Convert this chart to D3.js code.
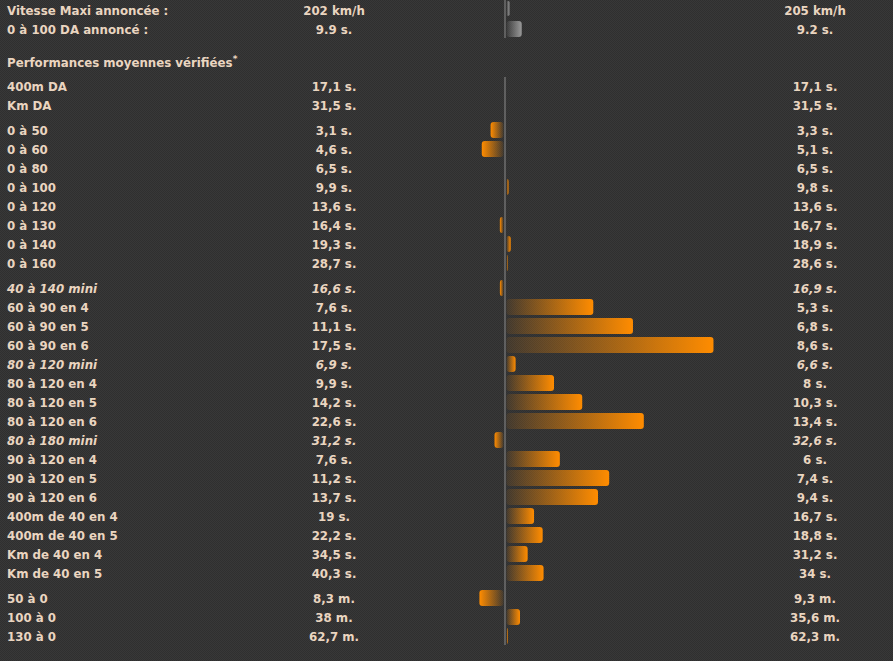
<!DOCTYPE html>
<html>
<head>
<meta charset="utf-8">
<script src="https://cdn.jsdelivr.net/npm/d3@7"></script>
<style>
  body { margin: 0; background: #343434; }
  svg { display: block; }
  text { font-family: "DejaVu Sans", Verdana, sans-serif; font-weight: bold; font-size: 11.8px; fill: #ead5c0; }
</style>
</head>
<body>
<svg id="chart"></svg>
<script>
// announced figures (top block)
const topLabels = ["Vitesse Maxi annoncée :", "0 à 100 DA annoncé :"];
const topLeft = [202, 9.9];
const topRight = [205, 9.2];
const topUnits = ["km/h", "s."];
const topHigherBetter = [true, false];

// measured performances
const labels = [
  "400m DA", "Km DA",
  "0 à 50", "0 à 60", "0 à 80", "0 à 100", "0 à 120", "0 à 130", "0 à 140", "0 à 160",
  "40 à 140 mini", "60 à 90 en 4", "60 à 90 en 5", "60 à 90 en 6",
  "80 à 120 mini", "80 à 120 en 4", "80 à 120 en 5", "80 à 120 en 6",
  "80 à 180 mini", "90 à 120 en 4", "90 à 120 en 5", "90 à 120 en 6",
  "400m de 40 en 4", "400m de 40 en 5", "Km de 40 en 4", "Km de 40 en 5",
  "50 à 0", "100 à 0", "130 à 0"
];
const groups = [0, 0, 1, 1, 1, 1, 1, 1, 1, 1,
  2, 2, 2, 2, 2, 2, 2, 2, 2, 2, 2, 2, 2, 2, 2, 2, 3, 3, 3];
const leftValues = [17.1, 31.5, 3.1, 4.6, 6.5, 9.9, 13.6, 16.4, 19.3, 28.7,
  16.6, 7.6, 11.1, 17.5, 6.9, 9.9, 14.2, 22.6, 31.2, 7.6, 11.2, 13.7,
  19, 22.2, 34.5, 40.3, 8.3, 38, 62.7];
const rightValues = [17.1, 31.5, 3.3, 5.1, 6.5, 9.8, 13.6, 16.7, 18.9, 28.6,
  16.9, 5.3, 6.8, 8.6, 6.6, 8, 10.3, 13.4, 32.6, 6, 7.4, 9.4,
  16.7, 18.8, 31.2, 34, 9.3, 35.6, 62.3];
const units = labels.map((d, i) => groups[i] === 3 ? "m." : "s.");
const italic = labels.map(d => d.endsWith("mini"));

const width = 893, height = 661;
const cx = 505;

const svg = d3.select("#chart").attr("width", width).attr("height", height);
const defs = svg.append("defs");

const pat = defs.append("pattern").attr("id", "bg").attr("width", 2).attr("height", 2)
  .attr("patternUnits", "userSpaceOnUse");
pat.append("rect").attr("width", 2).attr("height", 2).attr("fill", "#383838");
pat.append("rect").attr("width", 1).attr("height", 1).attr("fill", "#2f2f2f");
pat.append("rect").attr("x", 1).attr("y", 1).attr("width", 1).attr("height", 1).attr("fill", "#2f2f2f");
svg.append("rect").attr("width", width).attr("height", height).attr("fill", "url(#bg)");

function grad(id, color, toRight) {
  const g = defs.append("linearGradient").attr("id", id)
    .attr("x1", toRight ? "0%" : "100%").attr("x2", toRight ? "100%" : "0%");
  g.append("stop").attr("offset", "0%").attr("stop-color", color).attr("stop-opacity", 0.08);
  g.append("stop").attr("offset", "100%").attr("stop-color", color).attr("stop-opacity", 1);
}
grad("orR", "#ff8c00", true);
grad("orL", "#ff8c00", false);
grad("grR", "#9a9a9a", true);
grad("grL", "#9a9a9a", false);

// bar length = 200px per unit of (slower / faster - 1)
const x = d3.scaleLinear().domain([-1, 1]).range([cx - 200, cx + 200]);
const rowY = d3.scaleLinear().domain([0, 1]).range([86, 105]);
const yOf = i => rowY(i) + groups[i] * 6;
const topY = d3.scaleLinear().domain([0, 1]).range([10, 29]);

const fmt = (v, u, sep) => String(v).replace(".", sep) + " " + u;
const gain = (a, b, higher) => higher ? (b >= a ? b / a - 1 : -(a / b - 1))
                                       : (b <= a ? a / b - 1 : -(b / a - 1));

function drawBar(yc, g, color) {
  if (g === 0) return;
  const pos = g > 0;
  const x0 = pos ? x(0) + 1.5 : x(g) - 1.5;
  const w = Math.abs(x(g) - x(0));
  svg.append("rect")
    .attr("x", x0).attr("y", yc - 8).attr("width", Math.max(w, 1)).attr("height", 16)
    .attr("rx", Math.min(3, w / 2)).attr("ry", 3)
    .attr("fill", `url(#${color}${pos ? "R" : "L"})`);
}

// top block
svg.append("line").attr("x1", x(0)).attr("x2", x(0)).attr("y1", 0).attr("y2", 38)
  .attr("stroke", "#8c8c8c").attr("stroke-width", 1);
topLabels.forEach((lab, i) => {
  const yc = topY(i);
  const g = gain(topLeft[i], topRight[i], topHigherBetter[i]);
  const pos = g > 0;
  const w = Math.abs(x(g) - x(0));
  svg.append("rect")
    .attr("x", pos ? x(0) + 1.5 : x(g) - 1.5).attr("y", yc - 9 + i * 1).attr("width", w)
    .attr("height", i === 0 ? 15 : 16).attr("rx", Math.min(3, w / 2))
    .attr("fill", `url(#gr${pos ? "R" : "L"})`);
  svg.append("text").attr("x", 7).attr("y", yc).attr("dy", "0.42em").text(lab);
  svg.append("text").attr("x", 334).attr("y", yc).attr("dy", "0.42em")
    .attr("text-anchor", "middle").text(fmt(topLeft[i], topUnits[i], "."));
  svg.append("text").attr("x", 815).attr("y", yc).attr("dy", "0.42em")
    .attr("text-anchor", "middle").text(fmt(topRight[i], topUnits[i], "."));
});

const title = svg.append("text").attr("x", 7).attr("y", 62).attr("dy", "0.42em");
title.append("tspan").text("Performances moyennes vérifiées");
title.append("tspan").attr("dy", "-0.5em").attr("font-size", "9px").text("*");

// main block
svg.append("line").attr("x1", x(0)).attr("x2", x(0)).attr("y1", 77).attr("y2", 645)
  .attr("stroke", "#8c8c8c").attr("stroke-width", 1);

labels.forEach((lab, i) => {
  const yc = yOf(i);
  drawBar(yc, gain(leftValues[i], rightValues[i], false), "or");
  const st = italic[i] ? "italic" : "normal";
  svg.append("text").attr("x", 7).attr("y", yc).attr("dy", "0.42em")
    .attr("font-style", st).text(lab);
  svg.append("text").attr("x", 334).attr("y", yc).attr("dy", "0.42em")
    .attr("text-anchor", "middle").attr("font-style", st)
    .text(fmt(leftValues[i], units[i], ","));
  svg.append("text").attr("x", 815).attr("y", yc).attr("dy", "0.42em")
    .attr("text-anchor", "middle").attr("font-style", st)
    .text(fmt(rightValues[i], units[i], ","));
});
</script>
</body>
</html>
